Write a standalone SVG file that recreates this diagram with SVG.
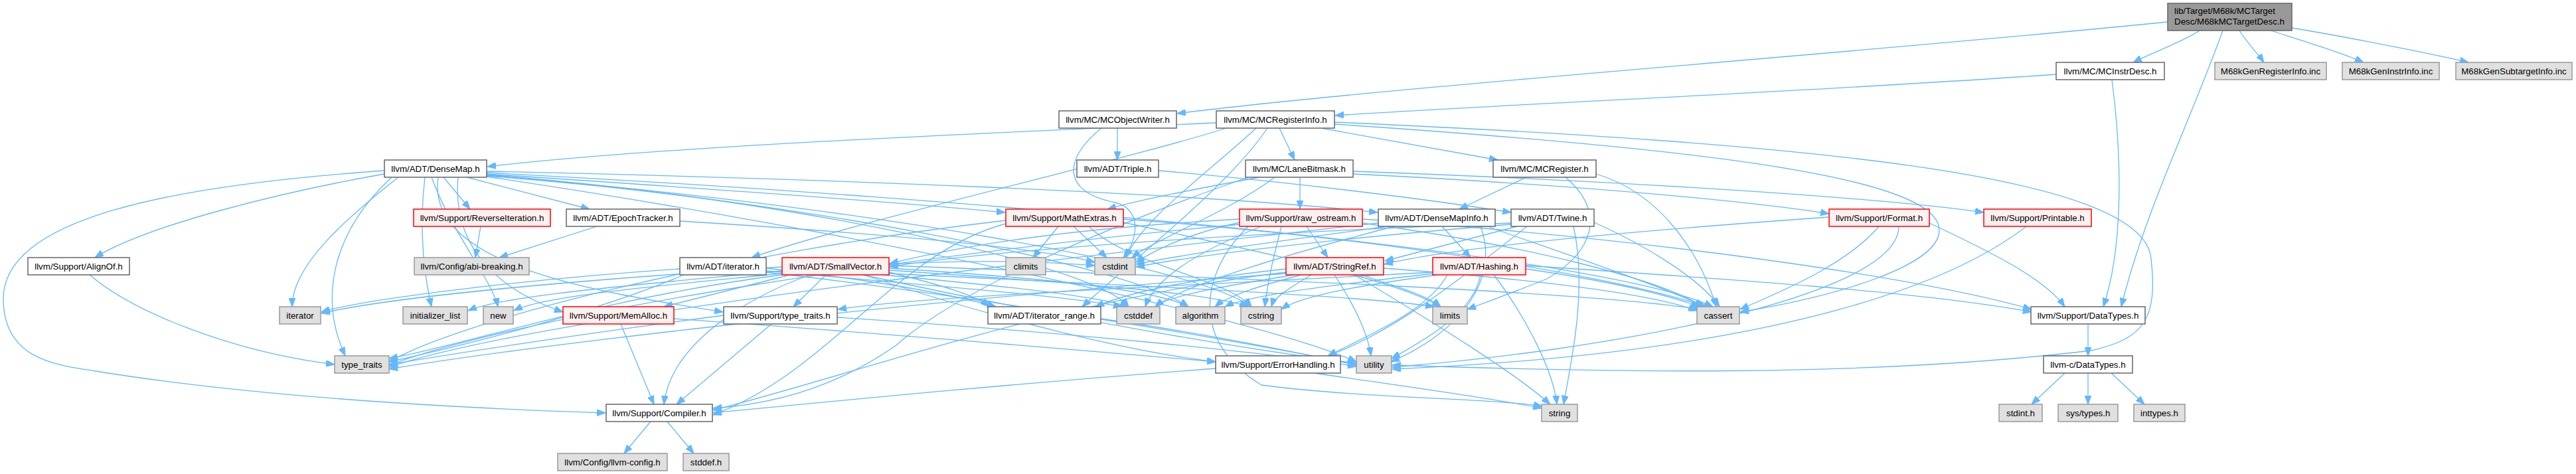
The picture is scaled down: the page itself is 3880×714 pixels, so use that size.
<svg xmlns="http://www.w3.org/2000/svg" width="3880" height="714" viewBox="0 0 3880 714">
<defs>
<style>
rect{stroke-width:1.5}
.w rect{fill:#ffffff;stroke:#666666}
.r rect{fill:#fff0f0;stroke:#ff0000}
.g rect{fill:#e0e0e0;stroke:#999999}
.root rect{fill:#999999;stroke:#666666}
text{font-family:"Liberation Sans",Arial,Helvetica,sans-serif;font-size:13.33px;fill:#000000;text-anchor:middle}
.root text{text-anchor:start}
#edges path{fill:none;stroke:#63b8ff;stroke-width:1.3;marker-end:url(#ah)}
</style>
<marker id="ah" markerUnits="userSpaceOnUse" markerWidth="13" markerHeight="10" viewBox="0 0 13 10" refX="13" refY="5" orient="auto">
<path d="M0,0 L13,5 L0,10 Z" fill="#63b8ff" stroke="#63b8ff" stroke-width="1"/>
</marker>
</defs>
<rect x="0" y="0" width="3880" height="714" fill="#ffffff"/>
<g id="edges">
<path d="M3313,46 C3290,62 3240,80 3213,94"/>
<path d="M3373,46 C3385,65 3400,80 3410,94"/>
<path d="M3420,46 C3470,62 3530,80 3560,94"/>
<path d="M3452,42 C3560,60 3680,85 3718,94"/>
<path d="M3348,46 C3300,180 3230,320 3195,462"/>
<path d="M3265,33 C2800,80 2100,130 1773,171"/>
<path d="M3097,112 C2700,140 2300,155 2011,174"/>
<path d="M3181,120 C3198,250 3196,380 3168,462"/>
<path d="M1683,193 L1683,241"/>
<path d="M1659,193 C1600,240 1600,290 1680,305 C1720,315 1715,360 1692,388"/>
<path d="M1832,185 C1500,200 1000,220 734,251"/>
<path d="M1847,193 C1700,240 1300,330 1132,388"/>
<path d="M1909,193 C1850,280 1720,380 1630,462"/>
<path d="M1892,193 C1820,260 1720,330 1696,388"/>
<path d="M1927,193 L1950,241"/>
<path d="M1990,193 L2256,241"/>
<path d="M2010,187 C2500,220 2900,260 2920,340 C2935,400 2750,450 2621,470"/>
<path d="M2010,184 C2700,215 3230,260 3240,390 C3250,480 3230,510 3150,528 C2800,570 2400,560 2097,550"/>
<path d="M579,257 C250,280 5,330 5,450 C5,540 80,550 150,560 C400,600 700,615 912,622"/>
<path d="M579,262 C420,290 220,340 143,388"/>
<path d="M668,267 L708,315"/>
<path d="M703,267 L888,315"/>
<path d="M733,262 C1000,280 1300,300 1514,320"/>
<path d="M733,258 C1200,268 1800,290 2075,320"/>
<path d="M690,267 C680,380 760,440 848,470"/>
<path d="M660,267 C640,400 900,440 1089,470"/>
<path d="M600,267 C520,330 440,400 440,462"/>
<path d="M590,267 C500,350 480,450 520,536"/>
<path d="M640,267 C630,350 640,420 650,462"/>
<path d="M650,267 C680,350 740,420 750,462"/>
<path d="M733,265 C1200,300 1700,400 1790,462"/>
<path d="M733,260 C1500,300 2400,380 2580,462"/>
<path d="M733,263 C1200,300 1650,400 1700,462"/>
<path d="M733,264 C1300,310 1800,400 1885,462"/>
<path d="M733,266 C1300,350 1900,480 2043,545"/>
<path d="M1745,257 C1950,275 2150,300 2276,320"/>
<path d="M1958,267 L1958,315"/>
<path d="M1897,267 C1800,285 1720,300 1668,315"/>
<path d="M2038,262 C2400,280 2650,305 2755,322"/>
<path d="M2038,258 C2500,275 2850,300 2988,320"/>
<path d="M1880,267 C1700,330 1450,430 1350,520 C1250,590 1150,610 1074,615"/>
<path d="M1920,267 C1850,320 1740,360 1705,388"/>
<path d="M2299,267 L2198,315"/>
<path d="M2358,267 C2420,320 2400,380 2330,420 C2280,440 2240,455 2210,466"/>
<path d="M2404,262 C2500,290 2560,380 2585,462"/>
<path d="M724,341 L716,388"/>
<path d="M899,341 L752,388"/>
<path d="M1024,333 C1300,350 1550,370 1649,395"/>
<path d="M1594,341 L1556,388"/>
<path d="M1617,341 L1667,388"/>
<path d="M1515,337 C1350,380 1250,560 1074,625"/>
<path d="M1692,330 C2100,360 2450,420 2570,462"/>
<path d="M1640,341 C1700,400 1850,420 1885,462"/>
<path d="M1692,335 C1900,380 2100,420 2170,462"/>
<path d="M1515,332 C1100,380 700,480 586,545"/>
<path d="M1968,341 L2000,388"/>
<path d="M1867,330 C1600,345 1450,370 1340,397"/>
<path d="M2052,330 C2500,360 2900,420 3060,466"/>
<path d="M2052,336 C2300,370 2500,420 2565,462"/>
<path d="M1900,341 C1800,380 1740,420 1725,462"/>
<path d="M1867,335 C1800,350 1750,370 1711,395"/>
<path d="M1930,341 C1920,380 1910,420 1905,462"/>
<path d="M1880,341 C1800,420 1800,520 1900,580 C2050,600 2250,600 2323,612"/>
<path d="M1867,338 C1400,380 800,470 586,550"/>
<path d="M2172,341 L2215,388"/>
<path d="M2240,341 C2350,380 2500,430 2568,462"/>
<path d="M2100,341 C1950,380 1780,430 1740,462"/>
<path d="M2090,341 C1950,360 1800,380 1711,398"/>
<path d="M2076,336 C1500,400 800,480 586,553"/>
<path d="M2230,341 C2260,420 2200,500 2095,545"/>
<path d="M2276,336 C1900,350 1500,375 1340,402"/>
<path d="M2285,341 L2086,393"/>
<path d="M2300,341 C2200,420 2100,500 2000,536"/>
<path d="M2401,335 C2480,370 2560,420 2590,462"/>
<path d="M2276,338 C2000,360 1800,385 1711,402"/>
<path d="M2370,341 C2390,430 2370,530 2355,609"/>
<path d="M2755,327 C2500,345 2200,370 2085,398"/>
<path d="M2906,336 C3000,380 3080,420 3110,462"/>
<path d="M2830,341 C2780,400 2680,440 2621,466"/>
<path d="M2860,341 C2860,450 2400,530 2097,553"/>
<path d="M3052,341 C2950,420 2700,530 2097,556"/>
<path d="M135,414 C200,470 350,530 504,549"/>
<path d="M1154,404 C1300,420 1420,440 1500,462"/>
<path d="M1154,408 C1400,430 1600,445 1690,462"/>
<path d="M1024,405 C800,420 550,450 484,470"/>
<path d="M1030,414 C900,470 700,520 586,545"/>
<path d="M1154,410 C1500,450 1900,520 2043,549"/>
<path d="M1220,414 C1120,450 1010,520 1000,609"/>
<path d="M1244,414 L1195,462"/>
<path d="M1190,414 L1000,462"/>
<path d="M1300,414 C1500,480 1700,530 1831,545"/>
<path d="M1339,410 C1420,430 1470,445 1490,462"/>
<path d="M1339,404 C1600,420 1750,440 1790,462"/>
<path d="M1339,400 C1900,420 2400,440 2560,466"/>
<path d="M1330,414 C1500,430 1650,445 1700,462"/>
<path d="M1339,398 C1450,392 1550,392 1649,400"/>
<path d="M1339,407 C1600,425 1820,440 1880,462"/>
<path d="M1178,408 C950,430 760,445 705,468"/>
<path d="M1178,402 C900,420 600,445 484,472"/>
<path d="M1339,412 C1700,430 2050,445 2160,462"/>
<path d="M1178,412 C1000,430 820,445 774,468"/>
<path d="M1178,414 C900,450 700,520 586,540"/>
<path d="M1300,414 C1600,480 1900,530 2043,547"/>
<path d="M1937,405 C1800,420 1700,440 1650,462"/>
<path d="M1937,410 C1600,450 1300,560 1074,618"/>
<path d="M1960,414 C1900,430 1850,445 1830,462"/>
<path d="M2084,404 C2300,420 2480,440 2556,468"/>
<path d="M1950,414 C1850,430 1760,445 1740,462"/>
<path d="M1975,414 C1950,430 1920,445 1915,462"/>
<path d="M2050,414 C2100,430 2150,445 2170,462"/>
<path d="M2040,414 C2150,480 2280,560 2335,609"/>
<path d="M1937,412 C1400,450 800,520 586,556"/>
<path d="M2010,414 C2040,460 2060,500 2065,536"/>
<path d="M2298,400 C2600,420 2900,440 3060,470"/>
<path d="M2180,414 C2150,470 2050,510 2000,536"/>
<path d="M2158,410 C1800,430 1400,445 1262,466"/>
<path d="M2160,412 C2000,430 1880,445 1845,462"/>
<path d="M2298,405 C2400,420 2500,440 2560,462"/>
<path d="M2165,414 C2050,430 1960,445 1930,466"/>
<path d="M2250,414 C2300,480 2340,560 2345,609"/>
<path d="M2230,414 C2220,470 2150,510 2096,540"/>
<path d="M935,488 L985,609"/>
<path d="M1015,480 C1300,500 1600,525 1831,545"/>
<path d="M1162,488 L1019,609"/>
<path d="M1090,475 C900,500 700,530 586,549"/>
<path d="M1261,478 C1600,500 1900,530 2043,552"/>
<path d="M1658,480 C1800,500 1950,530 2043,550"/>
<path d="M1831,555 C1500,580 1250,605 1074,622"/>
<path d="M1980,562 C2100,580 2250,600 2322,615"/>
<path d="M3145,488 L3145,536"/>
<path d="M3110,562 L3060,609"/>
<path d="M3145,562 L3145,609"/>
<path d="M3180,562 L3230,609"/>
<path d="M980,635 L940,683"/>
<path d="M1005,635 L1045,683"/>
</g>
<g id="n_root" class="root"><rect x="3265" y="5" width="187" height="41"/><text x="3275" y="21">lib/Target/M68k/MCTarget</text><text x="3275" y="37">Desc/M68kMCTargetDesc.h</text></g>
<g id="n_mcinstrdesc" class="w"><rect x="3097" y="94" width="163" height="26"/><text x="3178.5" y="111.5">llvm/MC/MCInstrDesc.h</text></g>
<g id="n_genreg" class="g"><rect x="3336" y="94" width="168" height="26"/><text x="3420" y="111.5">M68kGenRegisterInfo.inc</text></g>
<g id="n_geninstr" class="g"><rect x="3528" y="94" width="146" height="26"/><text x="3601" y="111.5">M68kGenInstrInfo.inc</text></g>
<g id="n_gensub" class="g"><rect x="3699" y="94" width="175" height="26"/><text x="3786.5" y="111.5">M68kGenSubtargetInfo.inc</text></g>
<g id="n_mcobjectwriter" class="w"><rect x="1595" y="167" width="177" height="26"/><text x="1683.5" y="184.5">llvm/MC/MCObjectWriter.h</text></g>
<g id="n_mcregisterinfo" class="w"><rect x="1832" y="167" width="178" height="26"/><text x="1921" y="184.5">llvm/MC/MCRegisterInfo.h</text></g>
<g id="n_densemap" class="w"><rect x="579" y="241" width="154" height="26"/><text x="656" y="258.5">llvm/ADT/DenseMap.h</text></g>
<g id="n_triple" class="w"><rect x="1622" y="241" width="123" height="26"/><text x="1683.5" y="258.5">llvm/ADT/Triple.h</text></g>
<g id="n_lanebitmask" class="w"><rect x="1876" y="241" width="162" height="26"/><text x="1957" y="258.5">llvm/MC/LaneBitmask.h</text></g>
<g id="n_mcregister" class="w"><rect x="2249" y="241" width="155" height="26"/><text x="2326.5" y="258.5">llvm/MC/MCRegister.h</text></g>
<g id="n_reverseiteration" class="r"><rect x="623" y="315" width="206" height="26"/><text x="726" y="332.5">llvm/Support/ReverseIteration.h</text></g>
<g id="n_epochtracker" class="w"><rect x="853" y="315" width="171" height="26"/><text x="938.5" y="332.5">llvm/ADT/EpochTracker.h</text></g>
<g id="n_mathextras" class="r"><rect x="1515" y="315" width="177" height="26"/><text x="1603.5" y="332.5">llvm/Support/MathExtras.h</text></g>
<g id="n_raw_ostream" class="r"><rect x="1867" y="315" width="185" height="26"/><text x="1959.5" y="332.5">llvm/Support/raw_ostream.h</text></g>
<g id="n_densemapinfo" class="w"><rect x="2076" y="315" width="176" height="26"/><text x="2164" y="332.5">llvm/ADT/DenseMapInfo.h</text></g>
<g id="n_twine" class="w"><rect x="2276" y="315" width="125" height="26"/><text x="2338.5" y="332.5">llvm/ADT/Twine.h</text></g>
<g id="n_format" class="r"><rect x="2755" y="315" width="151" height="26"/><text x="2830.5" y="332.5">llvm/Support/Format.h</text></g>
<g id="n_printable" class="r"><rect x="2988" y="315" width="162" height="26"/><text x="3069" y="332.5">llvm/Support/Printable.h</text></g>
<g id="n_alignof" class="w"><rect x="42" y="388" width="153" height="26"/><text x="118.5" y="405.5">llvm/Support/AlignOf.h</text></g>
<g id="n_abibreaking" class="g"><rect x="624" y="388" width="173" height="26"/><text x="710.5" y="405.5">llvm/Config/abi-breaking.h</text></g>
<g id="n_iterator_h" class="w"><rect x="1024" y="388" width="130" height="26"/><text x="1089" y="405.5">llvm/ADT/iterator.h</text></g>
<g id="n_smallvector" class="r"><rect x="1178" y="388" width="161" height="26"/><text x="1258.5" y="405.5">llvm/ADT/SmallVector.h</text></g>
<g id="n_climits" class="g"><rect x="1515" y="388" width="60" height="26"/><text x="1545" y="405.5">climits</text></g>
<g id="n_cstdint" class="g"><rect x="1649" y="388" width="61" height="26"/><text x="1679.5" y="405.5">cstdint</text></g>
<g id="n_stringref" class="r"><rect x="1937" y="388" width="147" height="26"/><text x="2010.5" y="405.5">llvm/ADT/StringRef.h</text></g>
<g id="n_hashing" class="r"><rect x="2158" y="388" width="140" height="26"/><text x="2228" y="405.5">llvm/ADT/Hashing.h</text></g>
<g id="n_iterator" class="g"><rect x="421" y="462" width="62" height="26"/><text x="452" y="479.5">iterator</text></g>
<g id="n_initializer_list" class="g"><rect x="607" y="462" width="97" height="26"/><text x="655.5" y="479.5">initializer_list</text></g>
<g id="n_new" class="g"><rect x="728" y="462" width="45" height="26"/><text x="750.5" y="479.5">new</text></g>
<g id="n_memalloc" class="r"><rect x="848" y="462" width="167" height="26"/><text x="931.5" y="479.5">llvm/Support/MemAlloc.h</text></g>
<g id="n_type_traits_h" class="w"><rect x="1090" y="462" width="171" height="26"/><text x="1175.5" y="479.5">llvm/Support/type_traits.h</text></g>
<g id="n_iterator_range" class="w"><rect x="1488" y="462" width="170" height="26"/><text x="1573" y="479.5">llvm/ADT/iterator_range.h</text></g>
<g id="n_cstddef" class="g"><rect x="1682" y="462" width="65" height="26"/><text x="1714.5" y="479.5">cstddef</text></g>
<g id="n_algorithm" class="g"><rect x="1771" y="462" width="74" height="26"/><text x="1808" y="479.5">algorithm</text></g>
<g id="n_cstring" class="g"><rect x="1869" y="462" width="61" height="26"/><text x="1899.5" y="479.5">cstring</text></g>
<g id="n_limits" class="g"><rect x="2158" y="462" width="52" height="26"/><text x="2184" y="479.5">limits</text></g>
<g id="n_cassert" class="g"><rect x="2556" y="462" width="64" height="26"/><text x="2588" y="479.5">cassert</text></g>
<g id="n_datatypes" class="w"><rect x="3059" y="462" width="172" height="26"/><text x="3145" y="479.5">llvm/Support/DataTypes.h</text></g>
<g id="n_type_traits" class="g"><rect x="504" y="536" width="82" height="26"/><text x="545" y="553.5">type_traits</text></g>
<g id="n_errorhandling" class="w"><rect x="1831" y="536" width="188" height="26"/><text x="1925" y="553.5">llvm/Support/ErrorHandling.h</text></g>
<g id="n_utility" class="g"><rect x="2043" y="536" width="53" height="26"/><text x="2069.5" y="553.5">utility</text></g>
<g id="n_c_datatypes" class="w"><rect x="3078" y="536" width="134" height="26"/><text x="3145" y="553.5">llvm-c/DataTypes.h</text></g>
<g id="n_compiler" class="w"><rect x="913" y="609" width="160" height="26"/><text x="993" y="626.5">llvm/Support/Compiler.h</text></g>
<g id="n_string" class="g"><rect x="2322" y="609" width="54" height="26"/><text x="2349" y="626.5">string</text></g>
<g id="n_stdint" class="g"><rect x="3011" y="609" width="65" height="26"/><text x="3043.5" y="626.5">stdint.h</text></g>
<g id="n_systypes" class="g"><rect x="3100" y="609" width="90" height="26"/><text x="3145" y="626.5">sys/types.h</text></g>
<g id="n_inttypes" class="g"><rect x="3214" y="609" width="77" height="26"/><text x="3252.5" y="626.5">inttypes.h</text></g>
<g id="n_llvmconfig" class="g"><rect x="840" y="683" width="165" height="26"/><text x="922.5" y="700.5">llvm/Config/llvm-config.h</text></g>
<g id="n_stddef" class="g"><rect x="1029" y="683" width="69" height="26"/><text x="1063.5" y="700.5">stddef.h</text></g>
</svg>
